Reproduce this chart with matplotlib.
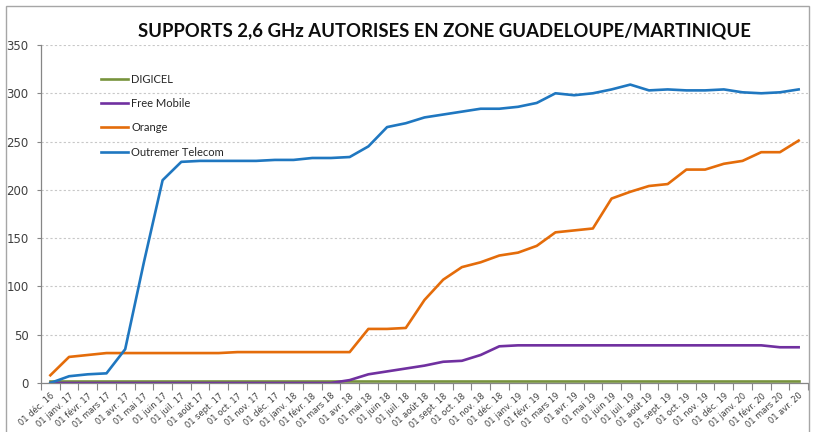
import matplotlib.pyplot as plt
import numpy as np
from matplotlib.patches import Rectangle

months = ['01 déc. 16',
          '01 janv. 17', '01 févr. 17', '01 mars 17', '01 avr. 17', '01 mai 17', '01 juin 17',
          '01 juil. 17', '01 août 17', '01 sept. 17', '01 oct. 17', '01 nov. 17', '01 déc. 17',
          '01 janv. 18', '01 févr. 18', '01 mars 18', '01 avr. 18', '01 mai 18', '01 juin 18',
          '01 juil. 18', '01 août 18', '01 sept. 18', '01 oct. 18', '01 nov. 18', '01 déc. 18',
          '01 janv. 19', '01 févr. 19', '01 mars 19', '01 avr. 19', '01 mai 19', '01 juin 19',
          '01 juil. 19', '01 août 19', '01 sept. 19', '01 oct. 19', '01 nov. 19', '01 déc. 19',
          '01 janv. 20', '01 févr. 20', '01 mars 20', '01 avr. 20']

digicel = [2] * 41
free_mobile = [0, 0, 0, 0, 0, 0, 0, 0, 0, 0, 0, 0, 0, 0, 0, 0,
               3, 9, 12, 15, 18, 22, 23, 29, 38, 39, 39, 39, 39, 39, 39,
               39, 39, 39, 39, 39, 39, 39, 39, 37, 37]
orange = [8, 27, 29, 31, 31, 31, 31, 31, 31, 31, 32, 32, 32, 32, 32, 32,
          32, 56, 56, 57, 86, 107, 120, 125, 132, 135, 142, 156, 158, 160, 191,
          198, 204, 206, 221, 221, 227, 230, 239, 239, 251]
outremer = [0, 7, 9, 10, 35, 125, 210, 229, 230, 230, 230, 230, 231, 231, 233, 233,
            234, 245, 265, 269, 275, 278, 281, 284, 284, 286, 290, 300, 298, 300, 304,
            309, 303, 304, 303, 303, 304, 301, 300, 301, 304]

series = [('DIGICEL', digicel, '#77933C'),
          ('Free Mobile', free_mobile, '#7030A0'),
          ('Orange', orange, '#E46C0A'),
          ('Outremer Telecom', outremer, '#1F77C0')]

fig = plt.figure(figsize=(8.13, 4.32), dpi=100)
ax = fig.add_axes([41 / 813, 1 - 383 / 432, 767 / 813, 338 / 432])

x = np.arange(len(months))
for name, vals, col in series:
    ax.plot(x, vals, color=col, lw=1.9, label=name, solid_joinstyle='round')

ax.set_xlim(-0.5, len(months) - 0.5)
ax.set_ylim(0, 350)
ax.set_yticks(range(0, 351, 50))
ax.grid(axis='y', color='#C8C8C8', ls=(0, (2, 2)), lw=0.8)
ax.set_axisbelow(True)

ax.set_xticks(x)
ax.set_xticklabels(months, rotation=42, ha='right', rotation_mode='anchor',
                   fontsize=6, color='#404040')
ax.set_xticks(np.arange(-0.5, len(months), 1), minor=True)
ax.tick_params(axis='x', which='major', length=0, pad=6)
ax.tick_params(axis='x', which='minor', length=5, color='#868686', width=0.8)
ax.tick_params(axis='y', length=3, color='#868686', labelsize=8.5, labelcolor='#404040', pad=6)

for s in ['top', 'right']:
    ax.spines[s].set_visible(False)
for s in ['left', 'bottom']:
    ax.spines[s].set_color('#868686')
    ax.spines[s].set_linewidth(0.9)

leg = ax.legend(loc='upper left', bbox_to_anchor=(0.065, 0.945), frameon=False,
                handlelength=2.4, handletextpad=0.35, labelspacing=1.2,
                prop={'family': 'Lato', 'size': 8})
for t in leg.get_texts():
    t.set_color('#262626')

fig.text(0.547, 1 - 31 / 432, 'SUPPORTS 2,6 GHz AUTORISES EN ZONE GUADELOUPE/MARTINIQUE',
         ha='center', va='center', fontsize=13.3, fontweight='bold', family='Lato', color='#0D0D0D')

fig.patches.append(Rectangle((6 / 813, -0.1), 803 / 813, 1.1 - 6 / 432, transform=fig.transFigure,
                             fill=False, edgecolor='#A6A6A6', lw=1))

fig.savefig('out.png', dpi=100)
